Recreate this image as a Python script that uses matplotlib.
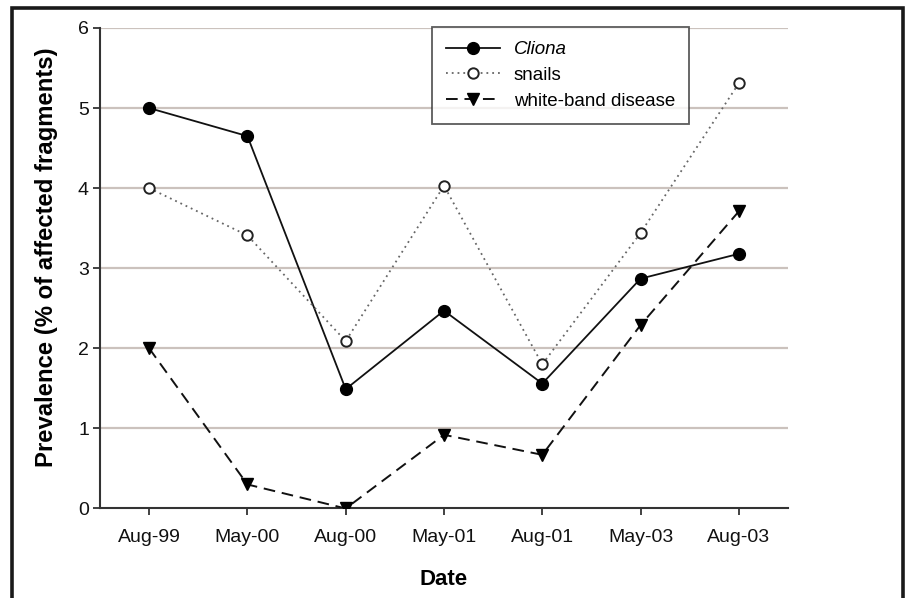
import matplotlib
matplotlib.use("Agg")
import matplotlib.pyplot as plt
from matplotlib.patches import Rectangle

plt.rcParams['font.family'] = ['Liberation Sans', 'DejaVu Sans']

dates = ["Aug-99", "May-00", "Aug-00", "May-01", "Aug-01", "May-03", "Aug-03"]
cliona = [5.00, 4.65, 1.49, 2.47, 1.56, 2.87, 3.18]
snails = [4.00, 3.41, 2.09, 4.03, 1.80, 3.44, 5.31]
white_band = [2.00, 0.30, 0.00, 0.92, 0.67, 2.29, 3.71]

fig = plt.figure(figsize=(9.05, 5.98), dpi=100)
ax = fig.add_axes([0.1105, 0.1497, 0.7602, 0.8035])

x = list(range(len(dates)))

for yv in range(1, 7):
    ax.axhline(yv, color='#cbc2bd', lw=1.6, zorder=0)

ax.plot(x, cliona, '-', color='#111111', lw=1.3, marker='o', ms=8.5,
        mfc='black', mec='black', label='Cliona', zorder=3)
ax.plot(x, snails, linestyle=(0, (1, 2.2)), color='#666666', lw=1.3,
        marker='o', ms=7.5, mfc='white', mec='#222222', mew=1.4,
        label='snails', zorder=3)
ax.plot(x, white_band, linestyle=(0, (6, 3.5)), color='#111111', lw=1.4,
        marker='v', ms=8.5, mfc='black', mec='black', label='white-band disease',
        zorder=3)

ax.set_xlim(-0.5, 6.5)
ax.set_ylim(0, 6)
ax.set_xticks(x)
ax.set_xticklabels(dates)
ax.set_yticks(range(0, 7))

for side in ('top', 'right'):
    ax.spines[side].set_visible(False)
for side in ('left', 'bottom'):
    ax.spines[side].set_color('#333333')
    ax.spines[side].set_linewidth(1.5)

ax.tick_params(axis='both', direction='out', length=5, width=1.3,
               color='#333333', labelsize=14, labelcolor='#111111')
ax.tick_params(axis='x', pad=10)
ax.tick_params(axis='y', pad=3)

ax.set_xlabel('Date', fontsize=16, fontweight='bold', labelpad=16)
ax.set_ylabel('Prevalence (% of affected fragments)', fontsize=17.2,
              fontweight='bold', labelpad=14, y=0.522)

leg = ax.legend(loc='upper left', bbox_to_anchor=(0.4826, 1.0015),
                fontsize=13.5, frameon=True, fancybox=False, borderpad=0.75,
                handlelength=2.9, handletextpad=0.7, labelspacing=0.45,
                borderaxespad=0)
leg.get_frame().set_edgecolor('#333333')
leg.get_frame().set_linewidth(1.3)
leg.get_texts()[0].set_fontstyle('italic')

# outer frame around the figure
fig.patches.append(Rectangle((12 / 905, -0.05), (903 - 12) / 905, 1.05 - 8 / 598,
                             transform=fig.transFigure, fill=False,
                             edgecolor='#1a1a1a', lw=2.6, zorder=10))

fig.savefig('out.png', dpi=100)
